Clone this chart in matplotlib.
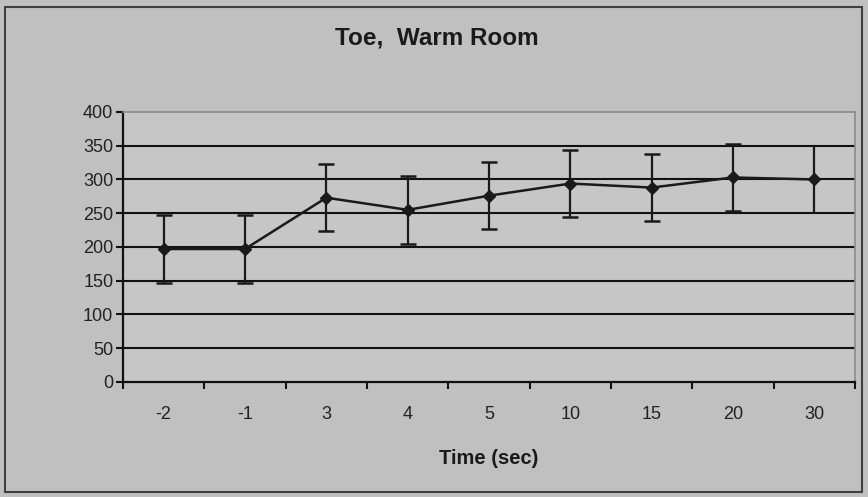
import numpy as np
import matplotlib.pyplot as plt
from matplotlib.patches import Rectangle

plt.rcParams['font.family'] = ['Liberation Sans', 'DejaVu Sans']

# data
categories = ["-2", "-1", "3", "4", "5", "10", "15", "20", "30"]
means = [197, 197, 273, 255, 276, 294, 288, 303, 300]
errors = [50, 50, 50, 50, 50, 50, 50, 50, 50]
yticks = [0, 50, 100, 150, 200, 250, 300, 350, 400]

fig = plt.figure(figsize=(8.68, 4.97), dpi=100)
fig.patch.set_facecolor("#c0c0c0")
fig.patches.append(Rectangle((0.006, 0.01), 0.987, 0.976, transform=fig.transFigure,
                             fill=False, edgecolor="#404040", linewidth=1.5))

ax = fig.add_axes([0.1417, 0.2314, 0.8433, 0.5433])
ax.set_facecolor("#c6c6c6")
x = np.arange(len(categories))

ax.plot(x, means, color="#1a1a1a", linewidth=1.8, marker="D", markersize=6,
        zorder=4)
# all but last have caps
ax.errorbar(x[:-1], means[:-1], yerr=errors[:-1], fmt="none", ecolor="#1a1a1a",
            elinewidth=1.6, capsize=6, capthick=1.8, zorder=3)
ax.errorbar(x[-1:], means[-1:], yerr=errors[-1:], fmt="none", ecolor="#1a1a1a",
            elinewidth=1.6, capsize=0, zorder=3)

ax.set_xlim(-0.5, len(categories) - 0.5)
ax.set_ylim(0, 400)
ax.set_yticks(yticks)
ax.set_yticklabels([str(v) for v in yticks])
for v in yticks[1:-1]:
    ax.axhline(v, color="#111111", linewidth=1.5, zorder=1)

ax.set_xticks(x)
ax.set_xticklabels(categories)
ax.set_xticks(np.arange(-0.5, len(categories), 1.0), minor=True)
ax.tick_params(axis="x", which="major", length=0, pad=17, labelsize=13, labelcolor="#222222")
ax.tick_params(axis="x", which="minor", length=5, width=1.5, direction="out", color="#111111")
ax.tick_params(axis="y", length=5, width=1.5, direction="out", labelsize=13,
               labelcolor="#222222", color="#111111", pad=2)

for side in ["top", "right"]:
    ax.spines[side].set_color("#8a8a8a")
    ax.spines[side].set_linewidth(1.2)
for side in ["left", "bottom"]:
    ax.spines[side].set_color("#111111")
    ax.spines[side].set_linewidth(1.6)

ax.set_xlabel("Time (sec)", fontsize=14.5, fontweight="bold", labelpad=19, color="#1a1a1a")
fig.text(0.503, 0.923, "Toe,  Warm Room", ha="center", va="center",
         fontsize=17.5, fontweight="bold", color="#1a1a1a")

fig.savefig("out.png", dpi=100, facecolor=fig.get_facecolor())
